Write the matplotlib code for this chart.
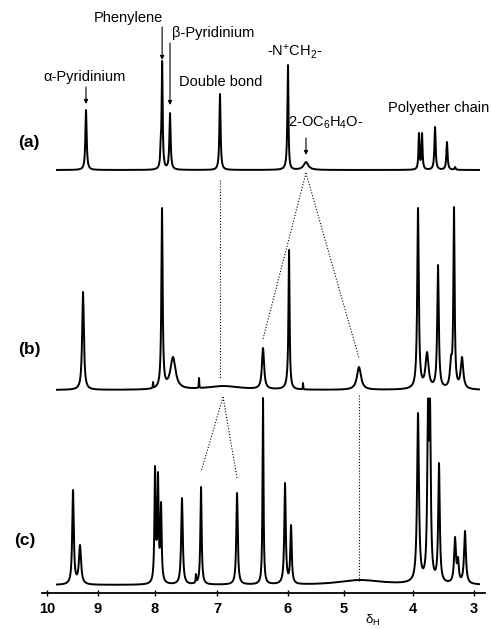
import numpy as np
import matplotlib
matplotlib.use('Agg')
import matplotlib.pyplot as plt

plt.rcParams['font.family'] = ['Liberation Sans', 'DejaVu Sans']
plt.rcParams['mathtext.default'] = 'regular'

# ---------------- data ----------------
tick_ppm = [10, 9, 8, 7, 6, 5, 4, 3]
tick_labels = ['10', '9', '8', '7', '6', '5', '4', '3']

# printed chemical-shift scale of the source figure is slightly non-uniform
scale_ppm = [11.5, 10, 9, 8, 7, 6, 5, 4, 3, 2.0]
scale_pos = [-29.5, 47, 98, 155, 217, 288, 344, 413, 474, 535]

# spectrum (a)
a_pos = [9.235, 7.908, 7.885, 7.758, 6.958, 6.000, 5.679, 3.902, 3.852, 3.639, 3.443, 3.311]
a_int = [60, 35, 109, 57, 76, 105, 8, 37, 37, 43, 28, 3]
a_wid = [0.015, 0.008, 0.010, 0.012, 0.010, 0.010, 0.05, 0.010, 0.010, 0.012, 0.012, 0.010]

# spectrum (b)
b_pos = [9.294, 8.035, 7.887, 7.710, 7.290, 6.915, 6.352, 5.982, 5.732, 4.783,
         3.918, 3.770, 3.590, 3.377, 3.328, 3.197]
b_int = [98, 8, 182, 33, 12, 4, 42, 140, 7, 23, 182, 38, 125, 35, 183, 33]
b_wid = [0.020, 0.004, 0.012, 0.050, 0.004, 0.30, 0.018, 0.012, 0.004, 0.035,
         0.015, 0.030, 0.015, 0.020, 0.012, 0.025]

# spectrum (c)
c_pos = [9.490, 9.353, 8.000, 7.952, 7.903, 7.565, 7.339, 7.258, 6.718, 6.352,
         6.042, 5.946, 4.768, 3.918, 3.754, 3.721, 3.574, 3.311, 3.262, 3.148]
c_int = [95, 40, 119, 113, 83, 87, 11, 98, 92, 187, 102, 60, 5, 172, 186, 186,
         122, 48, 28, 54]
c_wid = [0.018, 0.025, 0.012, 0.012, 0.012, 0.015, 0.006, 0.012, 0.012, 0.008,
         0.012, 0.015, 0.40, 0.018, 0.015, 0.015, 0.015, 0.018, 0.015, 0.018]

spec_range = (9.804, 2.918)

# ---------------- helpers ----------------
W, H = 493, 629
_sp = np.array(scale_ppm)[::-1]
_px = -np.array(scale_pos, float)[::-1]   # increasing with ppm


def fwd(x):
    return np.interp(np.asarray(x, float), _sp, _px)


def inv(p):
    return np.interp(np.asarray(p, float), _px, _sp)


def ppm_at(px):
    return float(inv(-px))


def lor(x, x0, w):
    return 1.0 / (1.0 + ((x - x0) / w) ** 2)


def spectrum(x, pos, inten, wid):
    pos = np.array(pos); inten = np.array(inten, float); wid = np.array(wid)
    M = lor(pos[:, None], pos[None, :], wid[None, :])
    amp = np.clip(np.linalg.solve(M, inten), 0, None)
    return (amp[None, :] * lor(x[:, None], pos[None, :], wid[None, :])).sum(axis=1)


def peak_h(pos, inten, wid, p):
    return spectrum(np.array([p]), pos, inten, wid)[0]


def fp(x, y):
    return (x / W, 1 - y / H)


# ---------------- figure ----------------
fig = plt.figure(figsize=(W / 100, H / 100), dpi=100)
ax = fig.add_axes([0, 0, 1, 1])
ax.set_xscale('function', functions=(fwd, inv))
ax.set_xlim(ppm_at(0), ppm_at(W))
ax.set_ylim(0, H)

base_a, base_b, base_c = H - 170, H - 390, H - 585
x = np.linspace(spec_range[0], spec_range[1], 14000)
for base, (pos, inten, wid) in zip((base_a, base_b, base_c),
                                   ((a_pos, a_int, a_wid), (b_pos, b_int, b_wid),
                                    (c_pos, c_int, c_wid))):
    ax.plot(x, base + spectrum(x, pos, inten, wid), color='black', lw=1.4,
            solid_joinstyle='round')

# dotted correlation lines
dot = dict(color='black', lw=0.8, ls=(0, (1, 1.6)))
# double bond (a) -> (b)
ax.plot([a_pos[4], a_pos[4]], [base_a - 10, base_b + 12], **dot)
# 2-OC6H4O (a) -> (b)
apex = (a_pos[6], base_a - 3)
for p in (b_pos[6], b_pos[9]):
    ax.plot([apex[0], p], [apex[1], base_b + peak_h(b_pos, b_int, b_wid, p) + 9], **dot)
# double bond (b) -> (c)
apex = (b_pos[5], base_b - 7)
for p in (c_pos[7], c_pos[8]):
    ax.plot([apex[0], p], [apex[1], base_c + peak_h(c_pos, c_int, c_wid, p) + 15], **dot)
# 4.8 ppm (b) -> (c)
ax.plot([b_pos[9], b_pos[9]], [base_b - 5, base_c + 4], **dot)

# axis
for s in ('left', 'right', 'top'):
    ax.spines[s].set_visible(False)
ax.spines['bottom'].set_position(('data', H - 593))
ax.spines['bottom'].set_bounds(ppm_at(42), ppm_at(485))
ax.spines['bottom'].set_linewidth(1.3)
ax.set_yticks([])
ax.set_xticks(tick_ppm, tick_labels)
ax.minorticks_off()
ax.tick_params(axis='x', direction='inout', length=5, width=1.0, pad=4,
               labelsize=10.5)
for t in ax.get_xticklabels():
    t.set_fontweight('bold')

fig.text(*fp(373, 620), r'$\delta_H$', ha='center', va='center', fontsize=9.5)

# spectrum labels
lab = dict(fontsize=12.5, fontweight='bold', ha='center', va='center')
fig.text(*fp(29, 143), '(a)', **lab)
fig.text(*fp(29, 350), '(b)', **lab)
fig.text(*fp(25, 540), '(c)', **lab)

# peak assignments
tx = dict(fontsize=10.5, ha='center', va='center')
fig.text(*fp(85, 77), 'α-Pyridinium', **tx)
fig.text(*fp(128, 18), 'Phenylene', **tx)
fig.text(*fp(213, 33), 'β-Pyridinium', **tx)
fig.text(*fp(221, 82), 'Double bond', **tx)
fig.text(*fp(295, 52), '-N$^{+}$CH$_2$-', **tx)
fig.text(*fp(326, 123), '2-OC$_6$H$_4$O-', **tx)
fig.text(*fp(439, 108), 'Polyether chain', **tx)

arr = dict(arrowstyle='-|>', lw=0.8, color='black', mutation_scale=6,
           shrinkA=0, shrinkB=0)
for p, gap, length in ((a_pos[0], 6, 17), (a_pos[2], 1, 33),
                       (a_pos[3], 8, 62), (a_pos[6], 7, 17)):
    y_tip = base_a + peak_h(a_pos, a_int, a_wid, p) + gap
    ax.annotate('', xy=(p, y_tip), xytext=(p, y_tip + length), arrowprops=arr)

fig.savefig('out.png', dpi=100)
